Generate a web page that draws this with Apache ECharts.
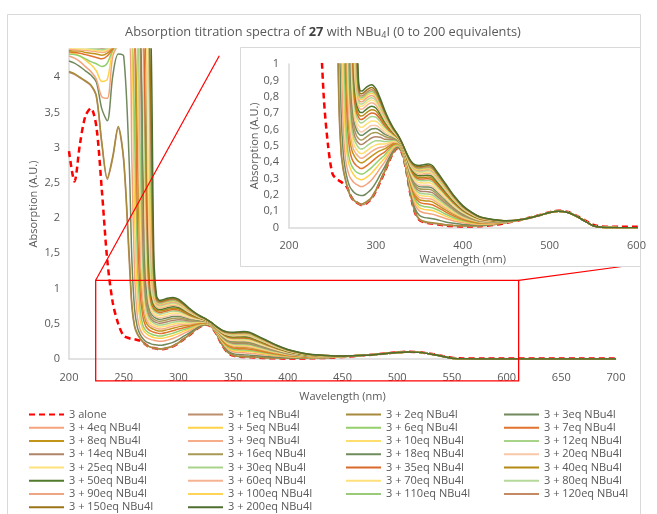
<!DOCTYPE html>
<html>
<head>
<meta charset="utf-8">
<script src="https://cdn.jsdelivr.net/npm/echarts@6/dist/echarts.min.js"></script>
<style>html,body{margin:0;padding:0;background:#fff;}#c{width:657px;height:514px;}</style>
</head>
<body>
<div id="c"></div>
<script>
// Wavelength grid (nm)
const wavelengths = [200, 205, 210, 215, 220, 225, 230, 235, 240, 245, 250, 255, 257.5, 260, 262.5, 265, 267.5, 270, 272.5, 275, 277.5, 280, 282.5, 285, 290, 295, 300, 305, 310, 315, 320, 325, 330, 335, 340, 345, 350, 355, 360, 365, 370, 380, 390, 400, 410, 420, 435, 450, 470, 490, 500, 510, 520, 530, 540, 550, 560, 580, 700];

const xTicksMain = [200, 250, 300, 350, 400, 450, 500, 550, 600, 650, 700];

const seriesNames = ['3 alone', '3 + 1eq NBu4I', '3 + 2eq NBu4I', '3 + 3eq NBu4I', '3 + 4eq NBu4I', '3 + 5eq NBu4I', '3 + 6eq NBu4I', '3 + 7eq NBu4I', '3 + 8eq NBu4I', '3 + 9eq NBu4I', '3 + 10eq NBu4I', '3 + 12eq NBu4I', '3 + 14eq NBu4I', '3 + 16eq NBu4I', '3 + 18eq NBu4I', '3 + 20eq NBu4I', '3 + 25eq NBu4I', '3 + 30eq NBu4I', '3 + 35eq NBu4I', '3 + 40eq NBu4I', '3 + 50eq NBu4I', '3 + 60eq NBu4I', '3 + 70eq NBu4I', '3 + 80eq NBu4I', '3 + 90eq NBu4I', '3 + 100eq NBu4I', '3 + 110eq NBu4I', '3 + 120eq NBu4I', '3 + 150eq NBu4I', '3 + 200eq NBu4I'];

const seriesColors = ['#FF0000', '#BC8E6C', '#A88A3C', '#71895C', '#F4A47C', '#FFD24A', '#93CF6C', '#E2732F', '#C29418', '#F6AE8A', '#FFDD6E', '#A8D48A', '#B08468', '#A89A55', '#6F8C5C', '#F8C8A8', '#FFE27A', '#A9D38C', '#D9692C', '#B48A14', '#517A2C', '#F5B391', '#FFE07C', '#B5D99A', '#EFA582', '#FFD457', '#9ACB78', '#C48A63', '#9A7518', '#4E6E30'];

const alone = [2.95, 2.52, 3.05, 3.45, 3.56, 3.3, 2.4, 1.4, 0.8, 0.5, 0.33, 0.295, 0.288, 0.28, 0.27, 0.26, 0.24, 0.205, 0.18, 0.165, 0.155, 0.147, 0.14, 0.138, 0.153, 0.178, 0.223, 0.281, 0.338, 0.403, 0.458, 0.485, 0.458, 0.348, 0.198, 0.093, 0.048, 0.033, 0.028, 0.025, 0.022, 0.013, 0.01, 0.008, 0.008, 0.009, 0.016, 0.03, 0.052, 0.079, 0.095, 0.104, 0.097, 0.075, 0.046, 0.018, 0.008, 0.006, 0.006];
const eq1 = [4.07, 4.04, 3.99, 3.94, 3.88, 3.72, 3.05, 2.55, 2.85, 3.28, 2.8, 1.4, 0.72, 0.45, 0.35, 0.29, 0.24, 0.2, 0.18, 0.165, 0.155, 0.147, 0.14, 0.14, 0.155, 0.18, 0.225, 0.283, 0.34, 0.405, 0.46, 0.487, 0.46, 0.35, 0.2, 0.095, 0.05, 0.035, 0.03, 0.027, 0.024, 0.015, 0.012, 0.01, 0.01, 0.011, 0.018, 0.032, 0.052, 0.078, 0.093, 0.101, 0.094, 0.072, 0.042, 0.012, 0.002, 0, 0];
const eq2 = [4.08, 4.05, 4.0, 3.95, 3.89, 3.74, 3.08, 2.57, 2.88, 3.3, 2.84, 1.5, 0.78, 0.47, 0.36, 0.295, 0.245, 0.205, 0.183, 0.168, 0.158, 0.15, 0.145, 0.147, 0.162, 0.187, 0.231, 0.288, 0.344, 0.408, 0.462, 0.488, 0.461, 0.351, 0.202, 0.098, 0.053, 0.039, 0.034, 0.031, 0.027, 0.018, 0.014, 0.011, 0.011, 0.012, 0.018, 0.032, 0.052, 0.078, 0.093, 0.101, 0.094, 0.072, 0.042, 0.012, 0.002, 0, 0];
const eq3 = [4.23, 4.2, 4.15, 4.09, 4.03, 3.93, 3.55, 3.38, 4.02, 4.33, 4.3, 2.8, 1.4, 0.7, 0.45, 0.35, 0.29, 0.25, 0.23, 0.215, 0.205, 0.2, 0.196, 0.196, 0.212, 0.236, 0.275, 0.324, 0.37, 0.425, 0.472, 0.494, 0.465, 0.359, 0.217, 0.118, 0.076, 0.063, 0.059, 0.055, 0.05, 0.035, 0.027, 0.02, 0.017, 0.015, 0.021, 0.033, 0.052, 0.078, 0.093, 0.101, 0.094, 0.072, 0.042, 0.012, 0.002, 0, 0];
const eq4 = [4.3, 4.27, 4.22, 4.15, 4.08, 3.97, 3.72, 3.7, 4.3, 4.45, 4.5, 4.5, 2.8, 1.2, 0.6, 0.42, 0.35, 0.31, 0.29, 0.275, 0.265, 0.258, 0.251, 0.252, 0.268, 0.291, 0.325, 0.364, 0.401, 0.446, 0.484, 0.5, 0.47, 0.368, 0.234, 0.141, 0.103, 0.091, 0.087, 0.083, 0.075, 0.056, 0.041, 0.03, 0.024, 0.02, 0.023, 0.034, 0.052, 0.078, 0.093, 0.101, 0.094, 0.072, 0.042, 0.012, 0.002, 0, 0];
const eq5 = [4.35, 4.33, 4.3, 4.24, 4.18, 4.09, 3.94, 3.97, 4.38, 4.5, 4.55, 4.55, 4.5, 2.0, 0.9, 0.55, 0.42, 0.37, 0.34, 0.32, 0.305, 0.298, 0.293, 0.294, 0.311, 0.333, 0.363, 0.395, 0.424, 0.461, 0.493, 0.505, 0.473, 0.374, 0.246, 0.159, 0.123, 0.112, 0.109, 0.105, 0.095, 0.071, 0.052, 0.038, 0.029, 0.023, 0.025, 0.034, 0.052, 0.078, 0.093, 0.101, 0.094, 0.072, 0.042, 0.012, 0.002, 0, 0];
const eq6 = [4.33, 4.32, 4.3, 4.26, 4.22, 4.19, 4.15, 4.2, 4.38, 4.45, 4.5, 4.55, 4.6, 3.2, 1.4, 0.7, 0.48, 0.41, 0.375, 0.355, 0.34, 0.333, 0.328, 0.328, 0.346, 0.367, 0.394, 0.42, 0.443, 0.474, 0.501, 0.509, 0.476, 0.38, 0.257, 0.173, 0.139, 0.13, 0.127, 0.122, 0.111, 0.084, 0.061, 0.044, 0.033, 0.026, 0.027, 0.035, 0.052, 0.078, 0.093, 0.101, 0.094, 0.072, 0.042, 0.012, 0.002, 0, 0];
const eq7 = [4.36, 4.35, 4.34, 4.32, 4.3, 4.28, 4.26, 4.3, 4.4, 4.5, 4.55, 4.6, 4.6, 4.5, 2.0, 0.95, 0.6, 0.47, 0.42, 0.395, 0.38, 0.37, 0.362, 0.363, 0.381, 0.402, 0.425, 0.445, 0.462, 0.487, 0.508, 0.514, 0.479, 0.385, 0.267, 0.188, 0.156, 0.147, 0.145, 0.14, 0.127, 0.097, 0.071, 0.05, 0.037, 0.029, 0.028, 0.035, 0.052, 0.078, 0.093, 0.101, 0.094, 0.072, 0.042, 0.012, 0.002, 0, 0];
const eq8 = [4.38, 4.37, 4.37, 4.35, 4.34, 4.33, 4.31, 4.34, 4.42, 4.5, 4.55, 4.6, 4.6, 4.6, 3.0, 1.3, 0.72, 0.54, 0.47, 0.44, 0.42, 0.405, 0.397, 0.398, 0.417, 0.437, 0.456, 0.471, 0.481, 0.499, 0.516, 0.518, 0.482, 0.391, 0.278, 0.202, 0.172, 0.165, 0.163, 0.158, 0.143, 0.109, 0.08, 0.056, 0.041, 0.031, 0.03, 0.036, 0.052, 0.078, 0.093, 0.101, 0.094, 0.072, 0.042, 0.012, 0.002, 0, 0];
const eq9 = [4.4, 4.39, 4.39, 4.38, 4.37, 4.36, 4.35, 4.37, 4.45, 4.5, 4.55, 4.6, 4.6, 4.6, 4.5, 1.7, 0.85, 0.6, 0.51, 0.47, 0.45, 0.435, 0.425, 0.426, 0.445, 0.465, 0.481, 0.491, 0.496, 0.51, 0.522, 0.521, 0.485, 0.395, 0.286, 0.214, 0.185, 0.179, 0.177, 0.172, 0.156, 0.12, 0.087, 0.061, 0.045, 0.034, 0.031, 0.036, 0.052, 0.078, 0.093, 0.101, 0.094, 0.072, 0.042, 0.012, 0.002, 0, 0];
const eq10 = [4.41, 4.41, 4.4, 4.4, 4.39, 4.38, 4.37, 4.39, 4.46, 4.5, 4.55, 4.6, 4.6, 4.6, 4.6, 2.3, 1.05, 0.68, 0.56, 0.505, 0.48, 0.463, 0.453, 0.454, 0.473, 0.492, 0.506, 0.511, 0.511, 0.52, 0.528, 0.524, 0.487, 0.4, 0.295, 0.226, 0.199, 0.193, 0.192, 0.186, 0.168, 0.13, 0.094, 0.066, 0.048, 0.036, 0.032, 0.037, 0.052, 0.078, 0.093, 0.101, 0.094, 0.072, 0.042, 0.012, 0.002, 0, 0];
const eq12 = [4.43, 4.43, 4.42, 4.42, 4.41, 4.4, 4.39, 4.41, 4.47, 4.52, 4.56, 4.6, 4.6, 4.6, 4.7, 3.0, 1.3, 0.76, 0.6, 0.54, 0.51, 0.49, 0.481, 0.482, 0.501, 0.52, 0.531, 0.531, 0.526, 0.53, 0.534, 0.528, 0.489, 0.404, 0.303, 0.237, 0.212, 0.207, 0.206, 0.2, 0.181, 0.14, 0.102, 0.071, 0.052, 0.038, 0.034, 0.037, 0.052, 0.078, 0.093, 0.101, 0.094, 0.072, 0.042, 0.012, 0.002, 0, 0];
const eq14 = [4.45, 4.45, 4.44, 4.44, 4.43, 4.42, 4.41, 4.43, 4.48, 4.52, 4.56, 4.6, 4.6, 4.6, 4.6, 4.5, 1.7, 0.86, 0.65, 0.57, 0.535, 0.518, 0.508, 0.51, 0.53, 0.548, 0.556, 0.552, 0.541, 0.54, 0.54, 0.531, 0.492, 0.408, 0.311, 0.249, 0.225, 0.221, 0.22, 0.214, 0.194, 0.15, 0.109, 0.076, 0.055, 0.04, 0.035, 0.037, 0.052, 0.078, 0.093, 0.101, 0.094, 0.072, 0.042, 0.012, 0.002, 0, 0];
const eq16 = [4.46, 4.46, 4.46, 4.45, 4.45, 4.44, 4.43, 4.44, 4.49, 4.53, 4.57, 4.6, 4.6, 4.6, 4.6, 4.6, 2.2, 0.98, 0.71, 0.61, 0.565, 0.545, 0.536, 0.538, 0.558, 0.576, 0.581, 0.572, 0.557, 0.55, 0.546, 0.534, 0.494, 0.413, 0.32, 0.26, 0.238, 0.235, 0.235, 0.228, 0.207, 0.16, 0.116, 0.081, 0.058, 0.042, 0.036, 0.038, 0.052, 0.078, 0.093, 0.101, 0.094, 0.072, 0.042, 0.012, 0.002, 0, 0];
const eq18 = [4.48, 4.48, 4.47, 4.47, 4.46, 4.46, 4.45, 4.46, 4.5, 4.54, 4.57, 4.6, 4.6, 4.6, 4.6, 4.7, 2.8, 1.15, 0.77, 0.65, 0.6, 0.575, 0.564, 0.566, 0.586, 0.603, 0.606, 0.592, 0.572, 0.561, 0.552, 0.538, 0.497, 0.417, 0.328, 0.272, 0.251, 0.249, 0.249, 0.242, 0.22, 0.171, 0.124, 0.086, 0.062, 0.045, 0.038, 0.038, 0.052, 0.078, 0.093, 0.101, 0.094, 0.072, 0.042, 0.012, 0.002, 0, 0];
const eq20 = [4.5, 4.5, 4.5, 4.5, 4.5, 4.5, 4.5, 4.5, 4.52, 4.55, 4.58, 4.6, 4.6, 4.6, 4.6, 4.6, 4.5, 1.5, 0.85, 0.68, 0.625, 0.598, 0.585, 0.587, 0.607, 0.624, 0.625, 0.607, 0.583, 0.568, 0.556, 0.54, 0.498, 0.42, 0.334, 0.281, 0.261, 0.259, 0.26, 0.253, 0.229, 0.178, 0.129, 0.09, 0.064, 0.046, 0.038, 0.038, 0.052, 0.078, 0.093, 0.101, 0.094, 0.072, 0.042, 0.012, 0.002, 0, 0];
const eq25 = [4.5, 4.5, 4.5, 4.5, 4.5, 4.5, 4.5, 4.5, 4.52, 4.55, 4.58, 4.6, 4.6, 4.6, 4.6, 4.6, 4.6, 1.9, 0.95, 0.72, 0.655, 0.625, 0.613, 0.615, 0.636, 0.652, 0.65, 0.628, 0.598, 0.578, 0.562, 0.543, 0.501, 0.425, 0.343, 0.292, 0.274, 0.273, 0.274, 0.267, 0.242, 0.188, 0.136, 0.095, 0.068, 0.048, 0.04, 0.039, 0.052, 0.078, 0.093, 0.101, 0.094, 0.072, 0.042, 0.012, 0.002, 0, 0];
const eq30 = [4.5, 4.5, 4.5, 4.5, 4.5, 4.5, 4.5, 4.5, 4.52, 4.55, 4.58, 4.6, 4.6, 4.6, 4.6, 4.6, 4.7, 2.4, 1.05, 0.77, 0.685, 0.655, 0.64, 0.643, 0.664, 0.68, 0.675, 0.648, 0.614, 0.589, 0.568, 0.547, 0.503, 0.429, 0.351, 0.304, 0.288, 0.287, 0.288, 0.281, 0.255, 0.199, 0.144, 0.1, 0.071, 0.051, 0.041, 0.039, 0.052, 0.078, 0.093, 0.101, 0.094, 0.072, 0.042, 0.012, 0.002, 0, 0];
const eq35 = [4.5, 4.5, 4.5, 4.5, 4.5, 4.5, 4.5, 4.5, 4.52, 4.55, 4.58, 4.6, 4.6, 4.6, 4.6, 4.6, 4.8, 3.0, 1.2, 0.81, 0.71, 0.675, 0.661, 0.664, 0.685, 0.701, 0.694, 0.663, 0.625, 0.596, 0.573, 0.549, 0.505, 0.433, 0.358, 0.313, 0.298, 0.298, 0.299, 0.292, 0.265, 0.206, 0.149, 0.104, 0.074, 0.052, 0.042, 0.04, 0.052, 0.078, 0.093, 0.101, 0.094, 0.072, 0.042, 0.012, 0.002, 0, 0];
const eq40 = [4.5, 4.5, 4.5, 4.5, 4.5, 4.5, 4.5, 4.5, 4.52, 4.55, 4.58, 4.6, 4.6, 4.6, 4.6, 4.6, 4.6, 4.5, 1.4, 0.86, 0.735, 0.695, 0.682, 0.684, 0.706, 0.721, 0.713, 0.678, 0.636, 0.604, 0.577, 0.552, 0.507, 0.436, 0.364, 0.321, 0.307, 0.308, 0.31, 0.302, 0.274, 0.214, 0.155, 0.108, 0.076, 0.054, 0.043, 0.04, 0.052, 0.078, 0.093, 0.101, 0.094, 0.072, 0.042, 0.012, 0.002, 0, 0];
const eq50 = [4.5, 4.5, 4.5, 4.5, 4.5, 4.5, 4.5, 4.5, 4.52, 4.55, 4.58, 4.6, 4.6, 4.6, 4.6, 4.6, 4.6, 4.6, 1.7, 0.92, 0.765, 0.718, 0.703, 0.705, 0.728, 0.742, 0.731, 0.694, 0.648, 0.612, 0.582, 0.554, 0.509, 0.439, 0.37, 0.33, 0.317, 0.319, 0.321, 0.313, 0.284, 0.222, 0.16, 0.111, 0.079, 0.056, 0.044, 0.04, 0.052, 0.078, 0.093, 0.101, 0.094, 0.072, 0.042, 0.012, 0.002, 0, 0];
const eq60 = [4.5, 4.5, 4.5, 4.5, 4.5, 4.5, 4.5, 4.5, 4.52, 4.55, 4.58, 4.6, 4.6, 4.6, 4.6, 4.6, 4.6, 4.7, 2.1, 1.0, 0.8, 0.74, 0.724, 0.726, 0.749, 0.763, 0.75, 0.709, 0.659, 0.619, 0.586, 0.557, 0.51, 0.442, 0.376, 0.339, 0.327, 0.329, 0.332, 0.324, 0.294, 0.229, 0.166, 0.115, 0.081, 0.057, 0.045, 0.04, 0.052, 0.078, 0.093, 0.101, 0.094, 0.072, 0.042, 0.012, 0.002, 0, 0];
const eq70 = [4.5, 4.5, 4.5, 4.5, 4.5, 4.5, 4.5, 4.5, 4.52, 4.55, 4.58, 4.6, 4.6, 4.6, 4.6, 4.6, 4.6, 4.8, 2.6, 1.1, 0.83, 0.758, 0.741, 0.744, 0.767, 0.78, 0.766, 0.722, 0.669, 0.626, 0.59, 0.559, 0.512, 0.445, 0.382, 0.346, 0.335, 0.338, 0.341, 0.332, 0.302, 0.236, 0.17, 0.118, 0.084, 0.059, 0.046, 0.041, 0.052, 0.078, 0.093, 0.101, 0.094, 0.072, 0.042, 0.012, 0.002, 0, 0];
const eq80 = [4.5, 4.5, 4.5, 4.5, 4.5, 4.5, 4.5, 4.5, 4.52, 4.55, 4.58, 4.6, 4.6, 4.6, 4.6, 4.6, 4.6, 4.6, 4.5, 1.25, 0.86, 0.775, 0.755, 0.758, 0.781, 0.794, 0.778, 0.732, 0.676, 0.631, 0.593, 0.56, 0.513, 0.447, 0.386, 0.352, 0.342, 0.345, 0.348, 0.339, 0.308, 0.241, 0.174, 0.121, 0.085, 0.06, 0.046, 0.041, 0.052, 0.078, 0.093, 0.101, 0.094, 0.072, 0.042, 0.012, 0.002, 0, 0];
const eq90 = [4.5, 4.5, 4.5, 4.5, 4.5, 4.5, 4.5, 4.5, 4.52, 4.55, 4.58, 4.6, 4.6, 4.6, 4.6, 4.6, 4.6, 4.6, 4.6, 1.5, 0.9, 0.79, 0.769, 0.772, 0.795, 0.808, 0.791, 0.742, 0.684, 0.636, 0.596, 0.562, 0.514, 0.45, 0.39, 0.357, 0.349, 0.352, 0.355, 0.346, 0.315, 0.246, 0.178, 0.123, 0.087, 0.061, 0.047, 0.041, 0.052, 0.078, 0.093, 0.101, 0.094, 0.072, 0.042, 0.012, 0.002, 0, 0];
const eq100 = [4.5, 4.5, 4.5, 4.5, 4.5, 4.5, 4.5, 4.5, 4.52, 4.55, 4.58, 4.6, 4.6, 4.6, 4.6, 4.6, 4.6, 4.6, 4.7, 1.9, 0.95, 0.805, 0.783, 0.786, 0.809, 0.822, 0.803, 0.752, 0.692, 0.641, 0.599, 0.564, 0.516, 0.452, 0.394, 0.363, 0.355, 0.359, 0.362, 0.354, 0.321, 0.251, 0.181, 0.126, 0.089, 0.062, 0.048, 0.041, 0.052, 0.078, 0.093, 0.101, 0.094, 0.072, 0.042, 0.012, 0.002, 0, 0];
const eq110 = [4.5, 4.5, 4.5, 4.5, 4.5, 4.5, 4.5, 4.5, 4.52, 4.55, 4.58, 4.6, 4.6, 4.6, 4.6, 4.6, 4.6, 4.6, 4.8, 2.4, 1.02, 0.82, 0.793, 0.796, 0.82, 0.832, 0.813, 0.76, 0.697, 0.645, 0.601, 0.565, 0.516, 0.453, 0.397, 0.368, 0.36, 0.364, 0.367, 0.359, 0.326, 0.255, 0.184, 0.128, 0.09, 0.063, 0.048, 0.041, 0.052, 0.078, 0.093, 0.101, 0.094, 0.072, 0.042, 0.012, 0.002, 0, 0];
const eq120 = [4.5, 4.5, 4.5, 4.5, 4.5, 4.5, 4.5, 4.5, 4.52, 4.55, 4.58, 4.6, 4.6, 4.6, 4.6, 4.6, 4.6, 4.6, 4.8, 2.9, 1.1, 0.835, 0.804, 0.807, 0.83, 0.843, 0.822, 0.767, 0.703, 0.649, 0.603, 0.566, 0.517, 0.455, 0.401, 0.372, 0.365, 0.369, 0.373, 0.364, 0.331, 0.259, 0.187, 0.129, 0.091, 0.064, 0.049, 0.042, 0.052, 0.078, 0.093, 0.101, 0.094, 0.072, 0.042, 0.012, 0.002, 0, 0];
const eq150 = [4.5, 4.5, 4.5, 4.5, 4.5, 4.5, 4.5, 4.5, 4.52, 4.55, 4.58, 4.6, 4.6, 4.6, 4.6, 4.6, 4.6, 4.6, 4.8, 3.5, 1.25, 0.86, 0.818, 0.821, 0.844, 0.857, 0.834, 0.777, 0.711, 0.654, 0.606, 0.568, 0.519, 0.457, 0.405, 0.378, 0.372, 0.376, 0.38, 0.371, 0.337, 0.264, 0.19, 0.132, 0.093, 0.065, 0.049, 0.042, 0.052, 0.078, 0.093, 0.101, 0.094, 0.072, 0.042, 0.012, 0.002, 0, 0];
const eq200 = [4.5, 4.5, 4.5, 4.5, 4.5, 4.5, 4.5, 4.5, 4.52, 4.55, 4.58, 4.6, 4.6, 4.6, 4.6, 4.6, 4.6, 4.6, 4.8, 4.5, 1.5, 0.9, 0.835, 0.838, 0.862, 0.874, 0.85, 0.79, 0.72, 0.66, 0.61, 0.57, 0.52, 0.46, 0.41, 0.385, 0.38, 0.385, 0.389, 0.38, 0.345, 0.27, 0.195, 0.135, 0.095, 0.066, 0.05, 0.042, 0.052, 0.078, 0.093, 0.101, 0.094, 0.072, 0.042, 0.012, 0.002, 0, 0];

const seriesValues = [alone, eq1, eq2, eq3, eq4, eq5, eq6, eq7, eq8, eq9, eq10, eq12, eq14, eq16, eq18, eq20, eq25, eq30, eq35, eq40, eq50, eq60, eq70, eq80, eq90, eq100, eq110, eq120, eq150, eq200];

const FONT = 'Open Sans';
const TXT = '#595959';
const AXIS = '#D9D9D9';

const chart = echarts.init(document.getElementById('c'), null, {renderer: 'canvas'});

function makeSeries(i, idx) {
  const isAlone = i === 0;
  return {
    name: seriesNames[i],
    type: 'line',
    xAxisIndex: idx,
    yAxisIndex: idx,
    data: wavelengths.map((w, k) => [w, seriesValues[i][k]]),
    symbol: 'none',
    smooth: 0.3,
    clip: true,
    silent: true,
    z: idx === 0 ? 2 : 20,
    lineStyle: {
      color: seriesColors[i],
      width: isAlone ? 2.5 : 1.5,
      type: isAlone ? [6, 4] : 'solid'
    },
    itemStyle: {color: seriesColors[i]}
  };
}

const series = [];
for (let i = 0; i < seriesNames.length; i++) series.push(makeSeries(i, 0));
for (let i = 0; i < seriesNames.length; i++) series.push(makeSeries(i, 1));

const legendLefts = [28, 187, 345, 503];
const legends = legendLefts.map((left, c) => ({
  orient: 'vertical',
  left: left,
  top: 409,
  padding: 0,
  itemWidth: 35,
  itemHeight: 10,
  itemGap: 2.25,
  selectedMode: false,
  itemStyle: {color: 'rgba(0,0,0,0)', borderColor: 'rgba(0,0,0,0)', borderWidth: 0, opacity: 0},
  textStyle: {fontFamily: FONT, fontSize: 11, color: TXT},
  data: seriesNames.filter((n, i) => i % 4 === c)
}));

const commaFmt = v => String(v).replace('.', ',');

const option = {
  animation: false,
  backgroundColor: '#fff',
  textStyle: {fontFamily: FONT},
  grid: [
    {left: 69, top: 49, width: 547, height: 310},
    {left: 289, top: 64, width: 347.5, height: 163.7}
  ],
  xAxis: [
    {
      type: 'value', gridIndex: 0, min: xTicksMain[0], max: xTicksMain[xTicksMain.length - 1], interval: 50,
      name: 'Wavelength (nm)', nameLocation: 'middle', nameGap: 32, nameMoveOverlap: false,
      nameTextStyle: {fontFamily: FONT, fontSize: 11, color: TXT},
      axisLine: {show: true, lineStyle: {color: AXIS, width: 1.5}},
      axisTick: {show: false}, splitLine: {show: false},
      axisLabel: {fontFamily: FONT, fontSize: 11, color: TXT, margin: 13}
    },
    {
      type: 'value', gridIndex: 1, min: 200, max: 600, interval: 100, z: 20,
      name: 'Wavelength (nm)', nameLocation: 'middle', nameGap: 27, nameMoveOverlap: false,
      nameTextStyle: {fontFamily: FONT, fontSize: 11, color: TXT},
      axisLine: {show: true, lineStyle: {color: AXIS, width: 1.5}},
      axisTick: {show: false}, splitLine: {show: false},
      axisLabel: {fontFamily: FONT, fontSize: 11, color: TXT, margin: 13}
    }
  ],
  yAxis: [
    {
      type: 'value', gridIndex: 0, min: 0, max: 4.4, interval: 0.5,
      name: 'Absorption (A.U.)', nameLocation: 'middle', nameGap: 29.5, nameMoveOverlap: false,
      nameTextStyle: {fontFamily: FONT, fontSize: 11, color: TXT},
      axisLine: {show: true, lineStyle: {color: AXIS, width: 1.5}},
      axisTick: {show: false}, splitLine: {show: false},
      axisLabel: {
        fontFamily: FONT, fontSize: 11, color: TXT, margin: 9,
        formatter: v => (Math.abs(v * 2 - Math.round(v * 2)) < 1e-6 ? commaFmt(Math.round(v * 2) / 2) : '')
      }
    },
    {
      type: 'value', gridIndex: 1, min: 0, max: 1, interval: 0.1, z: 20,
      name: 'Absorption (A.U.)', nameLocation: 'middle', nameGap: 29, nameMoveOverlap: false,
      nameTextStyle: {fontFamily: FONT, fontSize: 11, color: TXT},
      axisLine: {show: true, lineStyle: {color: AXIS, width: 1.5}},
      axisTick: {show: false}, splitLine: {show: false},
      axisLabel: {
        fontFamily: FONT, fontSize: 11, color: TXT, margin: 10,
        formatter: v => commaFmt(Math.round(v * 10) / 10)
      }
    }
  ],
  legend: legends,
  series: series
};

chart.setOption(option);

// zoom box (data space of main chart) and connectors
const zoomBox = {x0: 224.4, y0: 1.117, x1: 611, y1: -0.31};
const tl = chart.convertToPixel({xAxisIndex: 0, yAxisIndex: 0}, [zoomBox.x0, zoomBox.y0]);
const br = chart.convertToPixel({xAxisIndex: 0, yAxisIndex: 0}, [zoomBox.x1, zoomBox.y1]);

chart.setOption({
  graphic: {
    elements: [
      {id: 'frame', type: 'rect', z: 0, silent: true,
       shape: {x: 7.5, y: 14.5, width: 633, height: 530},
       style: {fill: 'none', stroke: '#D9D9D9', lineWidth: 1}},
      {id: 'title', type: 'text', z: 30, silent: true, x: 323, y: 32,
       style: {
         text: '{a|Absorption titration spectra of }{b|27}{a| with NBu}{s|4}{a|I (0 to 200 equivalents)}',
         align: 'center', verticalAlign: 'middle',
         rich: {
           a: {fontFamily: FONT, fontSize: 12.8, fill: TXT, color: TXT},
           b: {fontFamily: FONT, fontSize: 12.8, fontWeight: 'bold', fill: '#404040', color: '#404040'},
           s: {fontFamily: FONT, fontSize: 9, fill: TXT, color: TXT, verticalAlign: 'bottom', padding: [6, 0, 0, 0]}
         }
       }},
      {id: 'zoomRect', type: 'rect', z: 5, silent: true,
       shape: {x: tl[0], y: tl[1], width: br[0] - tl[0], height: br[1] - tl[1]},
       style: {fill: 'none', stroke: '#FF0000', lineWidth: 1.3}},
      {id: 'connL', type: 'line', z: 5, silent: true,
       shape: {x1: tl[0], y1: tl[1], x2: 219.3, y2: 55.7},
       style: {stroke: '#FF0000', lineWidth: 1.2}},
      {id: 'connR', type: 'line', z: 5, silent: true,
       shape: {x1: br[0], y1: tl[1], x2: 640.5, y2: 264},
       style: {stroke: '#FF0000', lineWidth: 1.2}},
      {id: 'inset', type: 'rect', z: 10, silent: true,
       shape: {x: 240.5, y: 47.5, width: 400, height: 219},
       style: {fill: '#FFFFFF', stroke: '#D9D9D9', lineWidth: 1}}
    ]
  }
});
</script>
</body>
</html>
